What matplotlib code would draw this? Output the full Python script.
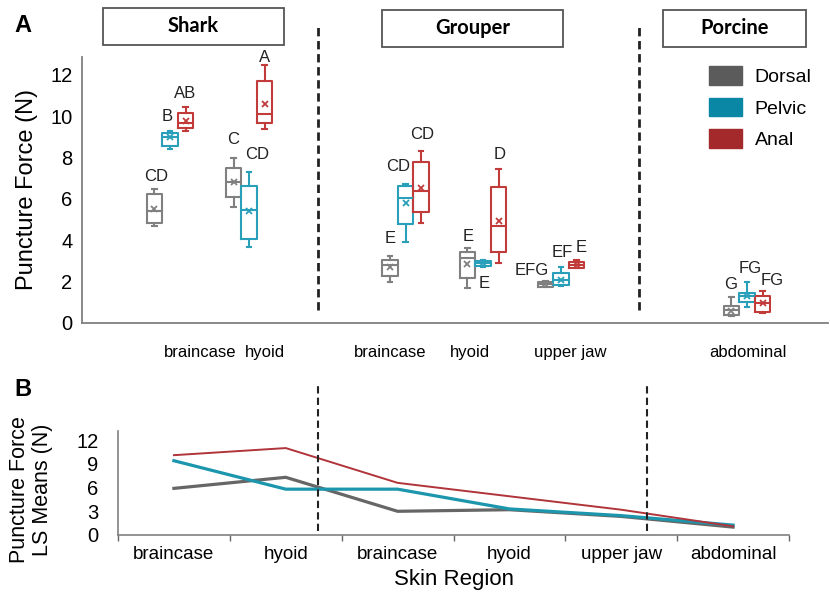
import numpy as np
import matplotlib.pyplot as plt
from matplotlib.patches import Rectangle, Patch
from matplotlib.lines import Line2D

plt.rcParams['font.family'] = ['Liberation Sans', 'DejaVu Sans']

# --- dane: panel A (boxploty) ---
fins = ['Dorsal', 'Pelvic', 'Anal']
regions_a = ['braincase', 'hyoid', 'braincase', 'hyoid', 'upper jaw', 'abdominal']
species = ['Shark', 'Grouper', 'Porcine']

dorsal_whislo = [4.70, 5.60, 1.98, 1.69, 1.72, 0.35]
dorsal_q1     = [4.84, 6.10, 2.27, 2.18, 1.76, 0.39]
dorsal_med    = [5.42, 6.83, 2.80, 3.14, 1.88, 0.63]
dorsal_q3     = [6.24, 7.50, 3.05, 3.43, 2.00, 0.82]
dorsal_whishi = [6.50, 8.00, 3.24, 3.63, 2.05, 1.26]
dorsal_mean   = [5.50, 6.80, 2.70, 2.85, 1.88, 0.60]

pelvic_whislo = [8.40, 3.67, 3.92, 2.71, 1.80, 0.77]
pelvic_q1     = [8.56, 4.05, 4.79, 2.75, 1.84, 1.02]
pelvic_med    = [9.00, 5.47, 6.05, 2.90, 2.10, 1.31]
pelvic_q3     = [9.20, 6.63, 6.63, 3.02, 2.42, 1.45]
pelvic_whishi = [9.30, 7.30, 6.72, 3.05, 2.70, 1.98]
pelvic_mean   = [9.00, 5.40, 5.80, 2.90, 2.08, 1.30]

anal_whislo = [9.30, 9.38, 4.84, 2.90, 2.66, 0.48]
anal_q1     = [9.45, 9.70, 5.37, 3.43, 2.68, 0.53]
anal_med    = [9.70, 10.10, 6.39, 4.69, 2.80, 0.97]
anal_q3     = [10.15, 11.70, 7.79, 6.58, 2.93, 1.31]
anal_whishi = [10.45, 12.48, 8.32, 7.45, 3.05, 1.55]
anal_mean   = [9.75, 10.60, 6.53, 4.93, 2.80, 0.97]

# litery grup (Tukey)
dorsal_letters = ['CD', 'C', 'E', 'E', 'EFG', 'G']
pelvic_letters = ['B', 'CD', 'CD', 'E', 'EF', 'FG']
anal_letters   = ['AB', 'A', 'CD', 'D', 'E', 'FG']

# --- dane: panel B (LS means) ---
regions_b = ['braincase', 'hyoid', 'braincase', 'hyoid', 'upper jaw', 'abdominal']
dorsal_ls = [5.9, 7.3, 3.0, 3.2, 2.35, 1.0]
pelvic_ls = [9.4, 5.8, 5.8, 3.3, 2.45, 1.25]
anal_ls   = [10.1, 11.0, 6.6, 4.9, 3.2, 1.1]

# --- układ ---
box_colors = ['#808080', '#2a9fba', '#c23b3b']
legend_colors = ['#5b5b5b', '#0a87a4', '#a3292b']
line_colors = ['#666666', '#1b96ad', '#b0343a']

group_x = [5.66, 10.75, 20.82, 25.8, 30.82, 42.79]
fin_offset = [-1.0, 0.0, 1.0]
label_x_a = [7.59, 11.78, 19.8, 24.97, 31.4, 42.86]
letter_y = [
    [7.1, 8.9, 4.08, 4.2, 2.56, 1.84],
    [9.97, 8.13, 7.58, 1.89, 3.43, 2.62],
    [11.12, 12.87, 9.1, 8.13, 3.63, 2.04],
]
letter_dx = [
    [0.1, -0.05, 0.0, 0.05, -0.85, -0.05],
    [-0.2, 0.5, -0.5, 0.05, 0.1, 0.2],
    [-0.05, 0.0, 0.05, 0.05, 0.3, 0.65],
]

fig = plt.figure(figsize=(8.3, 6.04), dpi=100)
W, H = 830.0, 604.0

def fx(px):
    return px / W

def fy(py):
    return 1 - py / H

# ================= Panel A =================
axA = fig.add_axes([fx(82), fy(323), fx(828 - 82), (323 - 57) / H])

stats_all = [
    (dorsal_whislo, dorsal_q1, dorsal_med, dorsal_q3, dorsal_whishi, dorsal_mean),
    (pelvic_whislo, pelvic_q1, pelvic_med, pelvic_q3, pelvic_whishi, pelvic_mean),
    (anal_whislo, anal_q1, anal_med, anal_q3, anal_whishi, anal_mean),
]
letters_all = [dorsal_letters, pelvic_letters, anal_letters]

for k, (wl, q1, md, q3, wh, mn) in enumerate(stats_all):
    c = box_colors[k]
    stats = [dict(whislo=wl[i], q1=q1[i], med=md[i], q3=q3[i], whishi=wh[i],
                  mean=mn[i], fliers=[]) for i in range(len(regions_a))]
    pos = [g + fin_offset[k] for g in group_x]
    axA.bxp(stats, positions=pos, widths=1.0, showmeans=True, showfliers=False,
            capwidths=0.3,
            boxprops=dict(color=c, lw=1.5),
            whiskerprops=dict(color=c, lw=1.5),
            capprops=dict(color=c, lw=1.5),
            medianprops=dict(color=c, lw=1.5),
            meanprops=dict(marker='x', markeredgecolor=c, markersize=4, mew=1.3))
    for i, t in enumerate(letters_all[k]):
        axA.text(pos[i] + letter_dx[k][i], letter_y[k][i], t, ha='center',
                 va='center', fontsize=12, color='#222222')

axA.set_xlim(0, 48)
axA.set_ylim(0, 12.87)
axA.set_yticks([0, 2, 4, 6, 8, 10, 12])
axA.set_xticks(label_x_a)
axA.set_xticklabels(regions_a, fontsize=12)
axA.tick_params(axis='x', length=0, pad=16)
axA.tick_params(axis='y', length=0, pad=7, labelsize=14.5)
for s in ['top', 'right']:
    axA.spines[s].set_visible(False)
for s in ['left', 'bottom']:
    axA.spines[s].set_color('#808080')
    axA.spines[s].set_linewidth(1.3)

for xd in [15.19, 35.84]:
    axA.add_line(Line2D([xd, xd], [0.63, 14.42], color='#222222', lw=2.0,
                        dashes=(3.0, 1.7), clip_on=False))

fig.text(fx(27), fy(189), 'Puncture Force (N)', rotation=90, ha='center',
         va='center', fontsize=17)
fig.text(fx(23), fy(26), 'A', fontsize=17, fontweight='bold', ha='center', va='center')

# ramki z nazwami gatunków
title_boxes = [(103, 8, 181, 37), (382, 10, 181, 37), (663, 10, 143, 37)]
for name, (bx, by, bw, bh) in zip(species, title_boxes):
    fig.patches.append(Rectangle((fx(bx), fy(by + bh)), bw / W, bh / H,
                                 transform=fig.transFigure, fill=False,
                                 edgecolor='#555555', lw=1.3))
    fig.text(fx(bx + bw / 2), fy(by + bh / 2), name, ha='center', va='center',
             fontsize=14.5, fontweight='bold', family=['Lato', 'DejaVu Sans'])

handles = [Patch(facecolor=legend_colors[k], edgecolor=legend_colors[k]) for k in range(3)]
fig.legend(handles, fins, loc='upper left', bbox_to_anchor=(fx(709), fy(66)),
           frameon=False, fontsize=14, handlelength=1.7, handleheight=1.1,
           handletextpad=0.65, labelspacing=0.6, borderpad=0, borderaxespad=0)

# ================= Panel B =================
axB = fig.add_axes([fx(118), fy(535), fx(789 - 118), (535 - 431) / H])
xb = np.arange(len(regions_b))
for vals, c, lw in [(dorsal_ls, line_colors[0], 2.3),
                    (pelvic_ls, line_colors[1], 2.3),
                    (anal_ls, line_colors[2], 1.4)]:
    axB.plot(xb, vals, color=c, lw=lw)

axB.set_xlim(-0.5, len(regions_b) - 0.5)
axB.set_ylim(0, 13.16)
axB.set_yticks([0, 3, 6, 9, 12])
axB.set_xticks(np.arange(-0.5, len(regions_b), 1.0))
axB.set_xticklabels([])
axB.set_xticks(xb, minor=True)
axB.set_xticklabels(regions_b, minor=True, fontsize=13.5)
axB.tick_params(axis='x', which='major', length=4, width=1, color='#666666', direction='out')
axB.tick_params(axis='x', which='minor', length=0, pad=8)
axB.tick_params(axis='y', length=0, pad=14, labelsize=14.5)
for s in ['top', 'right']:
    axB.spines[s].set_visible(False)
for s in ['left', 'bottom']:
    axB.spines[s].set_color('#808080')
    axB.spines[s].set_linewidth(1.2)
axB.set_xlabel('Skin Region', fontsize=16, labelpad=4)

for xd in [1.289, 4.23]:
    axB.add_line(Line2D([xd, xd], [0.5, 19.2], color='#222222', lw=1.5,
                        dashes=(3.5, 2.0), clip_on=False))

fig.text(fx(31), fy(490), 'Puncture Force\nLS Means (N)', rotation=90,
         ha='center', va='center', fontsize=15.5, linespacing=1.15)
fig.text(fx(23), fy(390), 'B', fontsize=17, fontweight='bold', ha='center', va='center')

fig.savefig('out.png', dpi=100)
